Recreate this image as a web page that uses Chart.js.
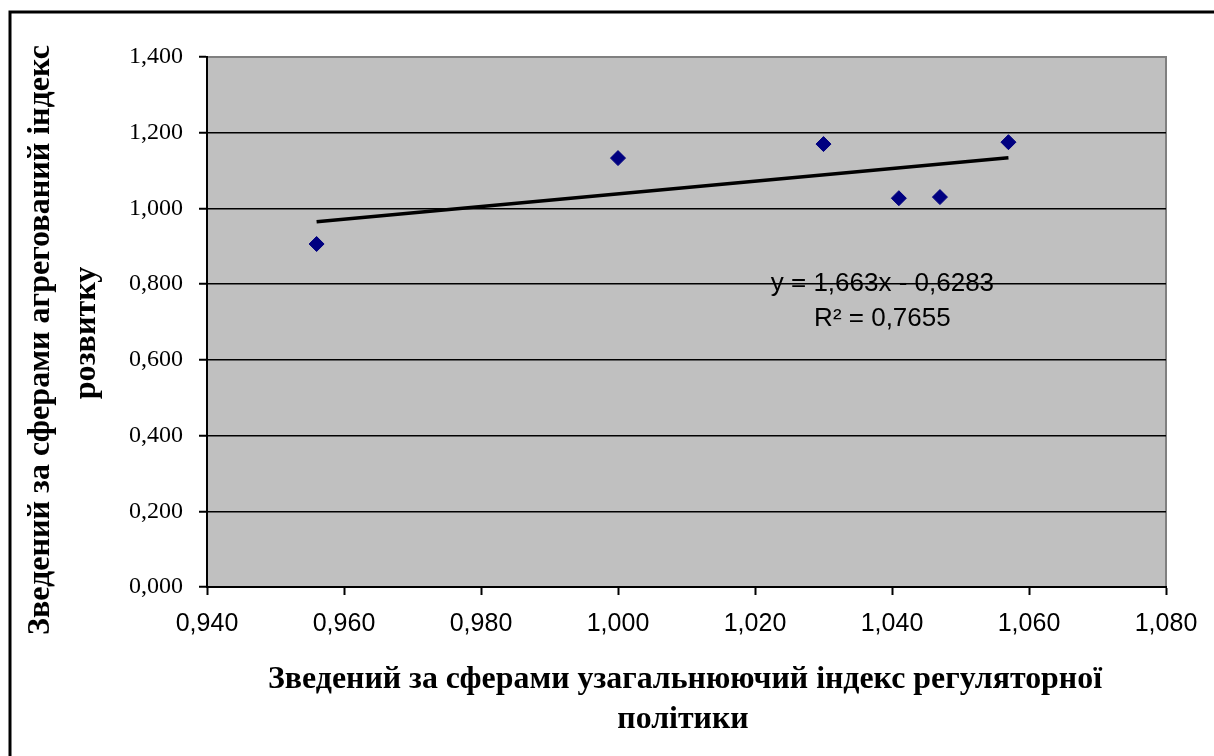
<!DOCTYPE html>
<html>
<head>
<meta charset="utf-8">
<script src="https://cdn.jsdelivr.net/npm/chart.js@4.4.1/dist/chart.umd.min.js"></script>
<style>
  html, body { margin: 0; padding: 0; background: #fff; overflow: hidden; }
</style>
</head>
<body>
<canvas id="scatterChart" width="1214" height="756"></canvas>
<script>
// regulatory policy index (x) vs aggregated development index (y)
const regIndex = [0.956, 1.000, 1.030, 1.041, 1.047, 1.057];
const devIndex = [0.906, 1.133, 1.170, 1.027, 1.030, 1.175];

// linear trend, end points
const trendX = [0.956, 1.057];
const trendY = [0.965, 1.134];

const xTickValues = [0.94, 0.96, 0.98, 1.00, 1.02, 1.04, 1.06, 1.08];
const yTickValues = [0, 0.2, 0.4, 0.6, 0.8, 1.0, 1.2, 1.4];

const xTitleLines = ['Зведений за сферами узагальнюючий індекс регуляторної', 'політики'];
const yTitleLines = ['Зведений за сферами агрегований індекс', 'розвитку'];
const trendLabel = ['y = 1,663x - 0,6283', 'R² = 0,7655'];

const fmt = v => v.toFixed(3).replace('.', ',');

document.addEventListener('DOMContentLoaded', () => {
    const plotBackground = {
        id: 'plotBackground',
        beforeDraw(chart) {
            const { ctx, chartArea: a } = chart;
            ctx.save();
            ctx.fillStyle = '#c0c0c0';
            ctx.fillRect(a.left, a.top, a.right - a.left, a.bottom - a.top);
            ctx.strokeStyle = '#808080';
            ctx.lineWidth = 2;
            ctx.beginPath();
            ctx.moveTo(a.left, a.top);
            ctx.lineTo(a.right, a.top);
            ctx.lineTo(a.right, a.bottom);
            ctx.stroke();
            ctx.restore();
        }
    };

    const extras = {
        id: 'extras',
        afterDatasetsDraw(chart) {
            const { ctx, scales } = chart;
            const x = scales.x.getPixelForValue(1.0386);
            ctx.save();
            ctx.fillStyle = '#000';
            ctx.font = '26px "Liberation Sans", Arial, sans-serif';
            ctx.textAlign = 'center';
            ctx.textBaseline = 'middle';
            ctx.fillText(trendLabel[0], x, scales.y.getPixelForValue(0.802));
            ctx.fillText(trendLabel[1], x, scales.y.getPixelForValue(0.709));
            ctx.restore();
        },
        afterDraw(chart) {
            const ctx = chart.ctx;
            ctx.save();
            // outer frame
            ctx.strokeStyle = '#000';
            ctx.lineWidth = 3;
            ctx.beginPath();
            ctx.moveTo(10, 760);
            ctx.lineTo(10, 12);
            ctx.lineTo(1220, 12);
            ctx.stroke();

            // axis titles, squeezed like the original
            ctx.fillStyle = '#000';
            ctx.font = 'bold 32px "Liberation Serif", "Times New Roman", serif';
            ctx.textAlign = 'center';
            ctx.textBaseline = 'middle';

            const kx = 834 / ctx.measureText(xTitleLines[0]).width;
            [[685, 680], [683, 720]].forEach(([cx, cy], i) => {
                ctx.save();
                ctx.translate(cx, cy);
                ctx.scale(kx, 1);
                ctx.fillText(xTitleLines[i], 0, 0);
                ctx.restore();
            });

            const ky = 590 / ctx.measureText(yTitleLines[0]).width;
            [[41, 340], [87, 333]].forEach(([cx, cy], i) => {
                ctx.save();
                ctx.translate(cx, cy);
                ctx.rotate(-Math.PI / 2);
                ctx.scale(ky, 1);
                ctx.fillText(yTitleLines[i], 0, 0);
                ctx.restore();
            });
            ctx.restore();
        }
    };

    const ctx = document.getElementById('scatterChart').getContext('2d');
    const scatterChart = new Chart(ctx, {
        type: 'scatter',
        data: {
            datasets: [{
                label: 'Індекси',
                data: regIndex.map((v, i) => ({ x: v, y: devIndex[i] })),
                pointStyle: 'rectRot',
                pointRadius: 7.5,
                backgroundColor: '#000080',
                borderColor: '#000080',
                borderWidth: 1
            }, {
                type: 'line',
                label: 'Тренд',
                data: trendX.map((v, i) => ({ x: v, y: trendY[i] })),
                borderColor: '#000',
                borderWidth: 3.5,
                pointRadius: 0,
                fill: false
            }]
        },
        options: {
            responsive: false,
            animation: false,
            devicePixelRatio: 1,
            layout: { padding: { top: 57, right: 48, left: 0, bottom: 0 } },
            plugins: { legend: { display: false }, tooltip: { enabled: false } },
            scales: {
                x: {
                    type: 'linear',
                    min: 0.94,
                    max: 1.08,
                    afterBuildTicks: s => { s.ticks = xTickValues.map(v => ({ value: v })); },
                    afterFit: s => { s.height = 169; },
                    border: { color: '#000', width: 2 },
                    grid: { drawOnChartArea: false, tickLength: 8, tickColor: '#000', tickWidth: 2 },
                    ticks: {
                        color: '#000',
                        padding: 14,
                        maxRotation: 0,
                        font: { family: '"Liberation Sans", Arial, sans-serif', size: 25 },
                        callback: v => fmt(v)
                    }
                },
                y: {
                    type: 'linear',
                    min: 0,
                    max: 1.4,
                    afterBuildTicks: s => { s.ticks = yTickValues.map(v => ({ value: v })); },
                    afterFit: s => { s.width = 207; },
                    border: { color: '#000', width: 2 },
                    grid: {
                        color: c => (c.tick && c.tick.value === 1.4 ? '#808080' : '#000'),
                        lineWidth: 1.5,
                        tickLength: 8,
                        tickColor: '#000',
                        tickWidth: 2
                    },
                    ticks: {
                        color: '#000',
                        padding: 16,
                        font: { family: '"Liberation Serif", "Times New Roman", serif', size: 24 },
                        callback: v => fmt(v)
                    }
                }
            }
        },
        plugins: [plotBackground, extras]
    });
});
</script>
</body>
</html>
